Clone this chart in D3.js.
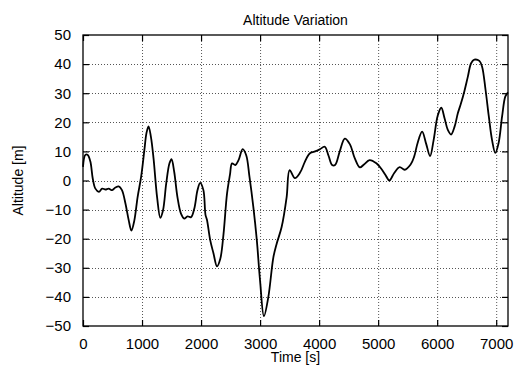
<!DOCTYPE html>
<html>
<head>
<meta charset="utf-8">
<script src="https://cdn.jsdelivr.net/npm/d3@7"></script>
<style>
    body { margin: 0; background: #fff; }
    text { font-family: "Liberation Sans", Arial, sans-serif; }
</style>
</head>
<body>
<div id="altitude"></div>
<script>
// time samples [s]
var timeValues = [0, 40, 80, 125, 165, 210, 270, 325, 380, 435, 495, 550, 605, 660, 720, 775, 820, 870, 925, 985,
    1040, 1075, 1110, 1150, 1195, 1255, 1310, 1355, 1410, 1465, 1500, 1545, 1600, 1660, 1715, 1770, 1830, 1885, 1940, 1985,
    2040, 2075, 2100, 2155, 2210, 2270, 2325, 2380, 2440, 2490, 2525, 2580, 2635, 2705, 2765, 2820, 2885, 2945,
    3000, 3065, 3140, 3225, 3280, 3365, 3450, 3500, 3590, 3680, 3760, 3840, 3920,
    4010, 4095, 4160, 4220, 4270, 4350, 4435, 4520, 4605, 4690, 4760, 4855, 4970,
    5050, 5135, 5190, 5270, 5365, 5450, 5550, 5610, 5670, 5745, 5815, 5880, 5940,
    6010, 6070, 6125, 6180, 6235, 6295, 6350, 6405, 6460, 6520, 6575, 6630, 6715, 6760, 6820, 6875, 6930, 6985,
    7040, 7100, 7155, 7200];

// altitude [m]
var altitudeValues = [4.7, 8.8, 8.8, 6.5, 0.7, -2.8, -3.9, -2.8, -3.1, -2.8, -3.3, -2.4, -2.0, -3.3, -8, -13.7, -17.2, -13.7, -5.7, 1.3,
    10.5, 16.3, 18.6, 15.1, 7.6, -5.7, -12.8, -10.3, -1, 5.9, 7.3, 3, -5.7, -11.4, -13.1, -12.3, -12.6, -9.7, -3.3, -0.8,
    -3.3, -11.8, -13.5, -20.5, -25, -29.5, -27, -18.5, -4.5, 2, 5.9, 5.3, 7, 10.8, 8.7, 1.3, -9, -20.6,
    -34.5, -46.6, -40, -26.4, -21.8, -16, -5.7, 3.6, 0.8, 2.8, 6.5, 9.3, 9.9,
    10.7, 11.6, 8.5, 5.3, 5.3, 10, 14.4, 12.5, 7.6, 4.5, 5.5, 7, 5.9,
    4.1, 1.5, 0, 2.5, 4.6, 3.7, 5.5, 8.2, 13, 16.8, 12.5, 8.4, 13.9,
    22.3, 25, 21.4, 17.4, 15.8, 18.5, 23.1, 26.6, 30.6, 35.7, 40.3, 41.5, 41.1, 39.2, 31.1, 22, 13.9, 9.5,
    12.8, 22, 28.9, 30.3];

var xTicks = [0, 1000, 2000, 3000, 4000, 5000, 6000, 7000];
var yTicks = [-50, -40, -30, -20, -10, 0, 10, 20, 30, 40, 50];

var chartTitle = "Altitude Variation";
var xLabel = "Time [s]";
var yLabel = "Altitude [m]";

var dataAltitude = timeValues.map(function (t, i) {
    return { t: t, v: altitudeValues[i] };
});

drawAltitudeChart(dataAltitude);

function drawAltitudeChart(data) {
    var margin = { top: 35, right: 8, bottom: 41, left: 83 };
    var width = 516 - margin.left - margin.right,
        height = 367 - margin.top - margin.bottom;

    var svg = d3.select("#altitude").append("svg")
        .attr("width", 516)
        .attr("height", 367);

    var g = svg.append("g")
        .attr("transform", "translate(" + margin.left + "," + margin.top + ")");

    var x = d3.scaleLinear().domain([0, 7200]).range([0, width]);
    var y = d3.scaleLinear().domain([-50, 50]).range([height, 0]);

    // dotted grid
    g.append("g").selectAll("line")
        .data(xTicks.filter(function (d) { return d > 0; }))
        .enter().append("line")
        .attr("x1", function (d) { return x(d) + 0.5; })
        .attr("x2", function (d) { return x(d) + 0.5; })
        .attr("y1", 0).attr("y2", height)
        .attr("stroke", "#555")
        .attr("stroke-dasharray", "1,2");

    g.append("g").selectAll("line")
        .data(yTicks.filter(function (d) { return d > -50 && d < 50; }))
        .enter().append("line")
        .attr("y1", function (d) { return Math.round(y(d)) + 0.5; })
        .attr("y2", function (d) { return Math.round(y(d)) + 0.5; })
        .attr("x1", 0).attr("x2", width)
        .attr("stroke", "#555")
        .attr("stroke-dasharray", "1,2");

    // axes with inward ticks on all four sides
    var xBottom = d3.axisBottom(x).tickValues(xTicks).tickFormat(d3.format("d"))
        .tickSizeInner(-6).tickSizeOuter(0).tickPadding(12);
    var xTop = d3.axisTop(x).tickValues(xTicks).tickSizeInner(-6).tickSizeOuter(0).tickFormat("");
    var yLeft = d3.axisLeft(y).tickValues(yTicks).tickFormat(d3.format("d"))
        .tickSizeInner(-6).tickSizeOuter(0).tickPadding(12);
    var yRight = d3.axisRight(y).tickValues(yTicks).tickSizeInner(-6).tickSizeOuter(0).tickFormat("");

    g.append("g").attr("transform", "translate(0," + height + ")").call(xBottom);
    g.append("g").call(xTop);
    g.append("g").call(yLeft);
    g.append("g").attr("transform", "translate(" + width + ",0)").call(yRight);

    g.selectAll(".domain").remove();
    g.selectAll(".tick line").attr("stroke", "#000").attr("stroke-width", 1.2);
    g.selectAll(".tick text")
        .attr("fill", "#000")
        .style("font-size", "15px")
        .style("font-family", "'Liberation Sans', Arial, sans-serif");

    // frame
    g.append("rect")
        .attr("x", 0).attr("y", 0)
        .attr("width", width).attr("height", height)
        .attr("fill", "none")
        .attr("stroke", "#000")
        .attr("stroke-width", 1.3);

    var line = d3.line()
        .x(function (d) { return x(d.t); })
        .y(function (d) { return y(d.v); })
        .curve(d3.curveCatmullRom);

    g.append("path")
        .datum(data)
        .attr("fill", "none")
        .attr("stroke", "#000")
        .attr("stroke-width", 1.8)
        .attr("d", line);

    svg.append("text")
        .attr("x", margin.left + width / 2)
        .attr("y", 25)
        .attr("text-anchor", "middle")
        .style("font-size", "14px")
        .text(chartTitle);

    svg.append("text")
        .attr("x", margin.left + width / 2)
        .attr("y", 362)
        .attr("text-anchor", "middle")
        .style("font-size", "14px")
        .text(xLabel);

    svg.append("text")
        .attr("transform", "translate(23," + (margin.top + height / 2) + ") rotate(-90)")
        .attr("text-anchor", "middle")
        .style("font-size", "14px")
        .text(yLabel);
}
</script>
</body>
</html>
